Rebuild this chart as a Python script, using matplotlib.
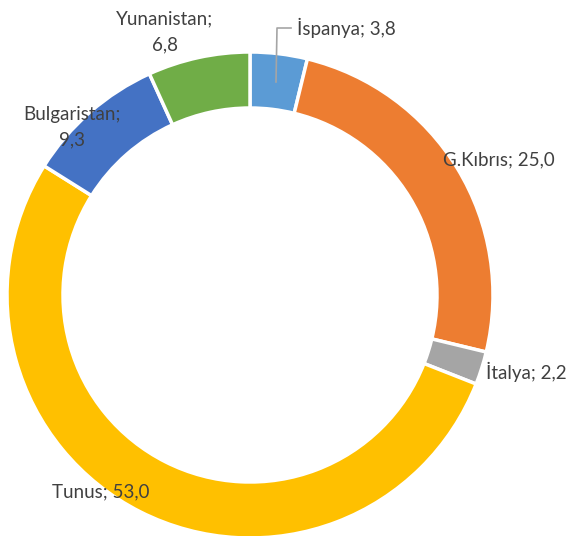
import matplotlib
matplotlib.use('Agg')
import matplotlib.pyplot as plt

# Share by country (%), clockwise from 12 o'clock
countries = ["İspanya", "G.Kıbrıs", "İtalya", "Tunus", "Bulgaristan", "Yunanistan"]
shares = [3.8, 25.0, 2.2, 53.0, 9.3, 6.8]
colors = ["#5B9BD5", "#ED7D31", "#A5A5A5", "#FFC000", "#4472C4", "#70AD47"]

# label anchor (x, y in pixels from top-left), alignment, line break after name
label_pos = [
    (297, 28, "left", False),
    (443, 160, "left", False),
    (486, 372, "left", False),
    (52, 492, "left", False),
    (72, 127, "center", True),
    (165, 32, "center", True),
]

W, H = 582, 536
cx, cy, r_out, r_in = 250, 295, 243, 187

fig = plt.figure(figsize=(W / 100, H / 100), dpi=100)
ax = fig.add_axes([0, 0, 1, 1])

ax.pie(shares, colors=colors, startangle=90, counterclock=False,
       center=(cx, H - cy), radius=r_out, frame=True,
       wedgeprops=dict(width=r_out - r_in, edgecolor='white', linewidth=2.5))
ax.set_xlim(0, W)
ax.set_ylim(0, H)
ax.set_aspect('equal')
ax.axis('off')

text_kw = dict(fontsize=13.5, color='#404040', family=['Lato', 'DejaVu Sans'])
for name, val, (x, y, ha, wrap) in zip(countries, shares, label_pos):
    val_txt = f"{val:.1f}".replace('.', ',')
    txt = f"{name};\n{val_txt}" if wrap else f"{name}; {val_txt}"
    ax.text(x, H - y, txt, ha=ha, va='center', linespacing=1.6, **text_kw)

# leader line for the small İspanya slice
ax.plot([276, 277, 291], [H - 82, H - 28, H - 28], color='#A5A5A5', lw=1.2)

fig.savefig('out.png', dpi=100)
